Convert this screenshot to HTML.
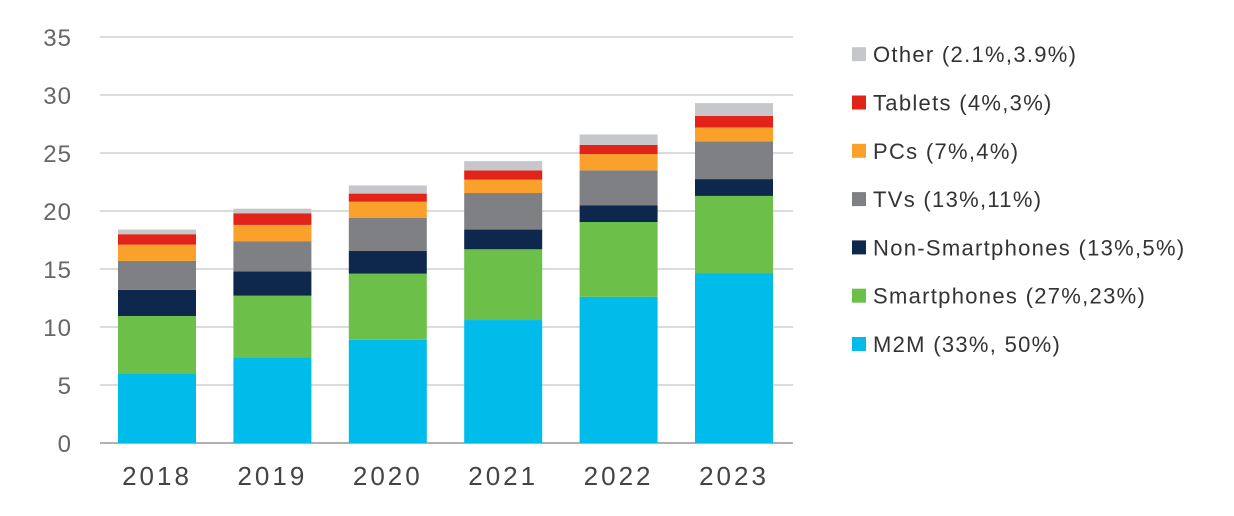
<!DOCTYPE html>
<html><head><meta charset="utf-8"><style>
body{margin:0;background:#fff;}
svg{display:block;font-family:"Liberation Sans",sans-serif;}
</style></head><body>
<svg id="chart" width="1234" height="516" viewBox="0 0 1234 516">
<g id="grid"></g>
<g id="bars"></g>
<g id="axis"></g>
<g id="legend"></g>
</svg>
<script>
const years=["2018","2019","2020","2021","2022","2023"];
const m2m=[6.0,7.4,8.9,10.6,12.6,14.65];
const smartphones=[4.95,5.3,5.7,6.1,6.45,6.65];
const nonSmartphones=[2.25,2.1,1.95,1.7,1.45,1.45];
const tvs=[2.5,2.6,2.85,3.15,3.0,3.25];
const pcs=[1.4,1.4,1.4,1.15,1.4,1.2];
const tablets=[0.9,1.0,0.7,0.8,0.8,1.0];
const other=[0.4,0.4,0.7,0.8,0.9,1.1];
const yTicks=[0,5,10,15,20,25,30,35];
const seriesNames=["M2M (33%, 50%)","Smartphones (27%,23%)","Non-Smartphones (13%,5%)","TVs (13%,11%)","PCs (7%,4%)","Tablets (4%,3%)","Other (2.1%,3.9%)"];

const series=[m2m,smartphones,nonSmartphones,tvs,pcs,tablets,other];
const colors=["#00bceb","#6cc04a","#0d274d","#7f8084","#f9a12a","#e2231a","#c6c7ca"];
const keys=["m2m","smartphones","non-smartphones","tvs","pcs","tablets","other"];
const NS="http://www.w3.org/2000/svg";
const y0=443, yTop=37, yMax=35;
const y=v=>y0-(v/yMax)*(y0-yTop);
const x=i=>118+i*115.4;
const bw=78;
function mk(t,a,p){const e=document.createElementNS(NS,t);for(const k in a)e.setAttribute(k,a[k]);p.appendChild(e);return e;}
const grid=document.getElementById('grid'),bars=document.getElementById('bars'),axis=document.getElementById('axis'),legend=document.getElementById('legend');
yTicks.forEach(t=>{
  const l=mk('line',{x1:100,x2:793,y1:y(t),y2:y(t),stroke:t===0?'#b0b0b0':'#cfcfcf','stroke-width':t===0?2:1.5},grid);
  
  
  const tx=mk('text',{x:72,y:y(t)+9,'text-anchor':'end','font-size':24,fill:'#666','letter-spacing':1},axis);
  tx.textContent=t;
  
  
});
years.forEach((yr,i)=>{
  let acc=0;
  series.forEach((s,j)=>{
    const v=s[i];
    const r=mk('rect',{x:x(i),y:y(acc+v),width:bw,height:y(acc)-y(acc+v),fill:colors[j]},bars);
    
    
    acc+=v;
  });
  const tx=mk('text',{x:x(i)+bw/2,y:485,'text-anchor':'middle','font-size':26,fill:'#444','letter-spacing':3},axis);
  tx.textContent=yr;
  
  
});
for(let j=6;j>=0;j--){
  const cy=344-(j)*48.3;
  const g=mk('g',{},legend);
  
  
  mk('rect',{x:852,y:cy-7,width:14,height:14,fill:colors[j]},g);
  const t=mk('text',{x:873,y:cy+8,'font-size':22,fill:'#333','letter-spacing':1.3},g);
  t.textContent=seriesNames[j];
}
</script>
</body></html>
